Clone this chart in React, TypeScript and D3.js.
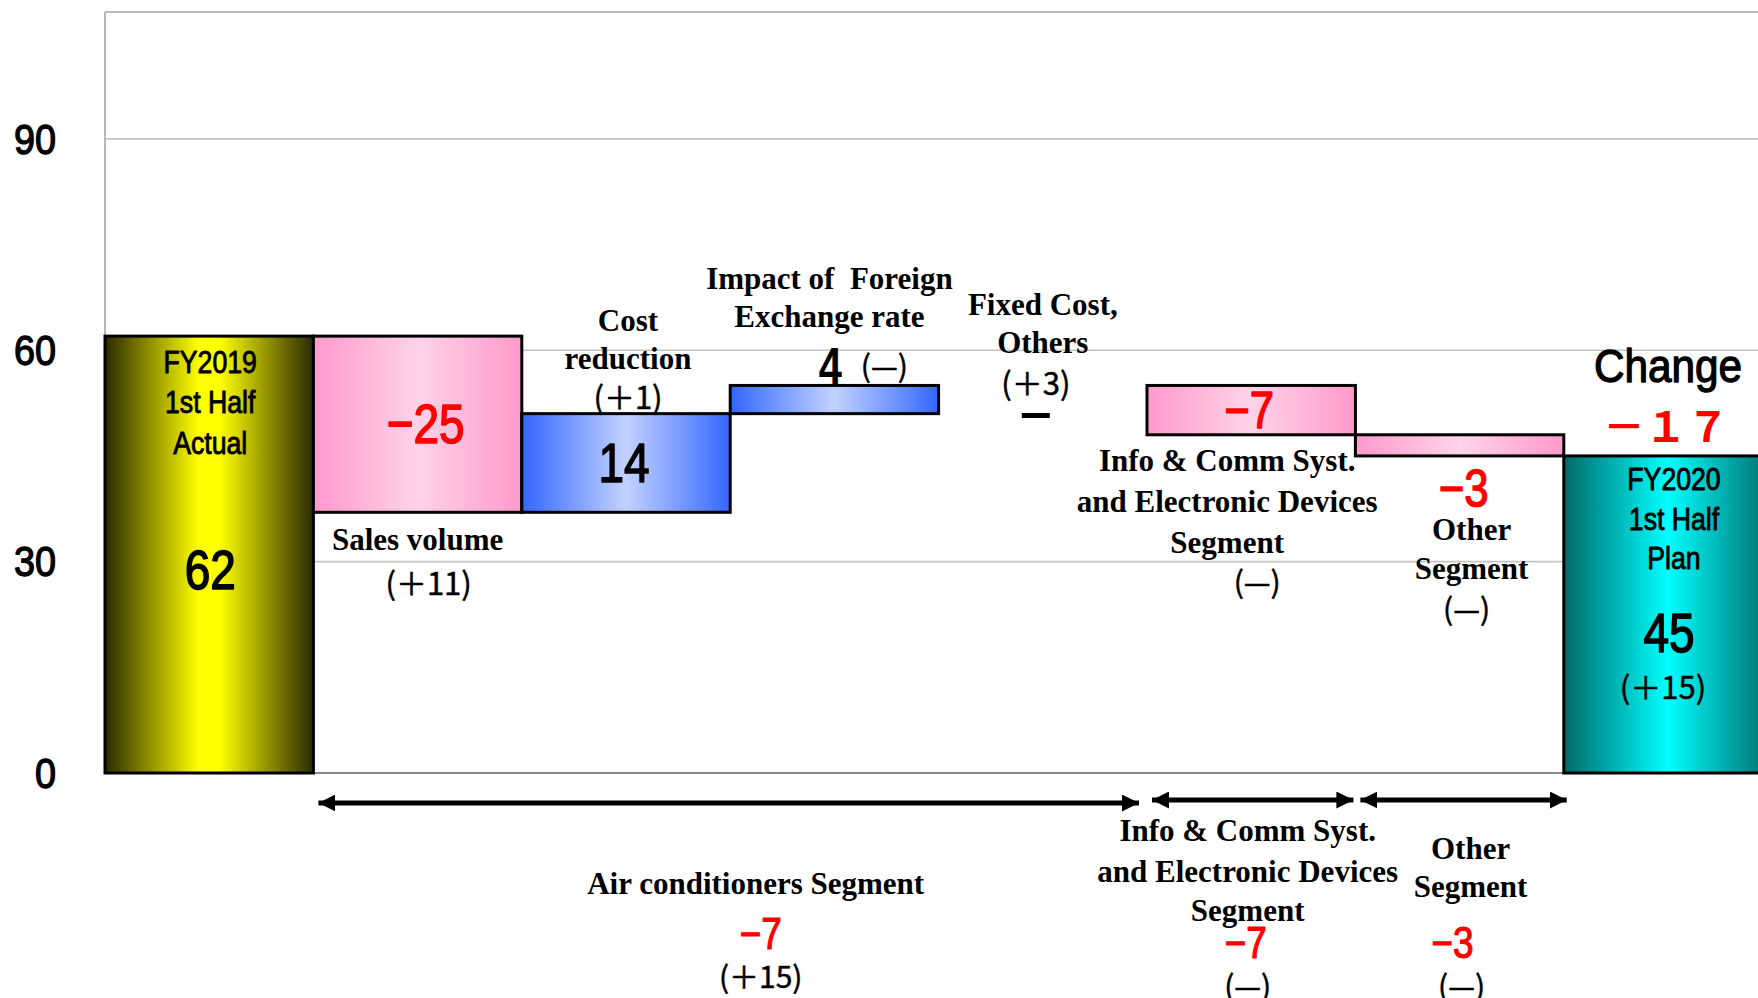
import React from "react";
import * as d3 from "d3";

// Operating income bridge, FY2019 1H actual -> FY2020 1H plan
const categories = ["actual", "volume", "cost", "fx", "fixed", "info", "other", "plan"];
const kinds = ["total", "delta", "delta", "delta", "delta", "delta", "delta", "total"];
const values = [62, -25, 14, 4, 0, -7, -3, 45];
const prevNotes = ["", "(＋11)", "(＋1)", "(—)", "(＋3)", "(—)", "(—)", "(＋15)"];
const yTicks = [0, 30, 60, 90];

const segmentNames = [["Air conditioners Segment"], ["Info & Comm Syst.", "and Electronic Devices", "Segment"], ["Other", "Segment"]];
const segmentFrom = ["volume", "info", "other"];
const segmentTo = ["fixed", "info", "other"];
const segmentValues = [-7, -7, -3];
const segmentNotes = ["(＋15)", "(—)", "(—)"];

const W = 1758;
const H = 998;

const fmt = (v: number) => (v === 0 ? "−" : v < 0 ? `−${Math.abs(v)}` : String(v));
const toFullWidth = (s: string) =>
  s.replace(/[0-9]/g, (c) => String.fromCharCode(c.charCodeAt(0) + 0xfee0)).replace(/-/g, "－");

const SANS = "'Liberation Sans', Arial, 'Noto Sans CJK JP', sans-serif";
const SERIF = "'Liberation Serif', 'Times New Roman', serif";
const CJK = "'Noto Sans CJK JP', 'Liberation Sans', sans-serif";

type TProps = {
  x: number;
  y: number;
  size: number;
  children: React.ReactNode;
  fill?: string;
  family?: string;
  weight?: string | number;
  sx?: number;
  halo?: number; // outline width used to thicken the gothic glyphs
  anchor?: "start" | "middle" | "end";
};

function T({ x, y, size, children, fill = "#000", family = SANS, weight = "normal", sx = 1, halo = 0, anchor = "middle" }: TProps) {
  return (
    <text
      transform={`translate(${x},${y}) scale(${sx},1)`}
      textAnchor={anchor}
      dominantBaseline="central"
      fontSize={size}
      fontFamily={family}
      fontWeight={weight}
      fill={fill}
      stroke={halo ? fill : "none"}
      strokeWidth={halo}
      strokeLinejoin="round"
      style={{ whiteSpace: "pre" }}
    >
      {children}
    </text>
  );
}

export default function App() {
  const x = d3.scaleBand<string>().domain(categories).range([105, 105 + 8 * 208.4]).padding(0);
  const y = d3.scaleLinear().domain([0, 108]).range([773, 12]);
  const bw = x.bandwidth();

  // running totals for the waterfall
  let run = 0;
  const bars = categories.map((c, i) => {
    let y0: number, y1: number;
    if (kinds[i] === "total") {
      y0 = 0;
      y1 = values[i];
      run = values[i];
    } else {
      y0 = run;
      y1 = run + values[i];
      run = y1;
    }
    return { c, i, lo: Math.min(y0, y1), hi: Math.max(y0, y1), v: values[i] };
  });

  const fillFor = (i: number) => {
    if (i === 0) return "url(#gYellow)";
    if (i === categories.length - 1) return "url(#gTeal)";
    return values[i] < 0 ? "url(#gPink)" : "url(#gBlue)";
  };

  const cx = (c: string) => (x(c) as number) + bw / 2;
  const mid = (b: { lo: number; hi: number }) => (y(b.lo) + y(b.hi)) / 2;
  const change = values[values.length - 1] - values[0];

  const B = bars;

  return (
    <svg width={W} height={H} style={{ position: "absolute", left: 0, top: 0, background: "#fff" }}>
      <defs>
        <linearGradient id="gYellow" x1="0" x2="1" y1="0" y2="0">
          <stop offset="0" stopColor="#2a2a00" />
          <stop offset="0.45" stopColor="#ffff00" />
          <stop offset="0.55" stopColor="#ffff00" />
          <stop offset="1" stopColor="#2a2a00" />
        </linearGradient>
        <linearGradient id="gPink" x1="0" x2="1" y1="0" y2="0">
          <stop offset="0" stopColor="#ff99cc" />
          <stop offset="0.5" stopColor="#ffd3e9" />
          <stop offset="1" stopColor="#ff99cc" />
        </linearGradient>
        <linearGradient id="gBlue" x1="0" x2="1" y1="0" y2="0">
          <stop offset="0" stopColor="#3366ff" />
          <stop offset="0.5" stopColor="#c2d2ff" />
          <stop offset="1" stopColor="#3366ff" />
        </linearGradient>
        <linearGradient id="gTeal" x1="0" x2="1" y1="0" y2="0">
          <stop offset="0" stopColor="#006a6a" />
          <stop offset="0.5" stopColor="#00ffff" />
          <stop offset="1" stopColor="#006a6a" />
        </linearGradient>
        <marker id="ah" viewBox="0 0 10 10" refX="10" refY="5" markerWidth="3.4" markerHeight="3.4" orient="auto-start-reverse" markerUnits="strokeWidth">
          <path d="M0,0 L10,5 L0,10 Z" fill="#000" />
        </marker>
      </defs>

      {/* frame and gridlines */}
      <line x1={105} x2={W} y1={12} y2={12} stroke="#b8b8b8" strokeWidth={2} />
      <line x1={105} x2={105} y1={12} y2={y(0)} stroke="#b8b8b8" strokeWidth={2} />
      {yTicks.map((t) => (
        <g key={t}>
          {t > 0 && <line x1={105} x2={W} y1={y(t)} y2={y(t)} stroke="#c4c4c4" strokeWidth={1.6} />}
          <T x={56} y={y(t)} size={42} sx={0.9} halo={1.3} anchor="end">
            {t}
          </T>
        </g>
      ))}
      <line x1={105} x2={W} y1={y(0)} y2={y(0)} stroke="#888" strokeWidth={2} />

      {/* waterfall bars */}
      {B.filter((b) => b.v !== 0).map((b) => (
        <rect
          key={b.c}
          x={x(b.c)}
          y={y(b.hi)}
          width={bw}
          height={y(b.lo) - y(b.hi)}
          fill={fillFor(b.i)}
          stroke="#000"
          strokeWidth={3}
        />
      ))}

      {/* FY2019 actual */}
      <T x={cx("actual") + 1} y={362} size={31} sx={0.86} halo={0.9}>FY2019</T>
      <T x={cx("actual") + 1} y={402} size={31} sx={0.86} halo={0.9}>1st Half</T>
      <T x={cx("actual") + 1} y={443} size={31} sx={0.86} halo={0.9}>Actual</T>
      <T x={cx("actual") + 1} y={y(B[0].hi * 0.466)} size={56} sx={0.82} halo={1.6}>{fmt(B[0].v)}</T>

      {/* Sales volume */}
      <T x={cx("volume") + 8} y={mid(B[1])} size={56} sx={0.82} halo={1.6} fill="#ff0000">{fmt(B[1].v)}</T>
      <T x={cx("volume")} y={539} size={31} family={SERIF} weight="bold">Sales volume</T>
      <T x={cx("volume") + 11} y={581} size={31} family={CJK} halo={0.5}>{prevNotes[1]}</T>

      {/* Cost reduction */}
      <T x={cx("cost") - 2} y={mid(B[2])} size={56} sx={0.82} halo={1.6}>{fmt(B[2].v)}</T>
      <T x={cx("cost") + 2} y={320} size={31} family={SERIF} weight="bold">Cost</T>
      <T x={cx("cost") + 2} y={358} size={31} family={SERIF} weight="bold">reduction</T>
      <T x={cx("cost") + 2} y={395} size={31} family={CJK} halo={0.5}>{prevNotes[2]}</T>

      {/* Foreign exchange */}
      <T x={cx("fx") - 5} y={278} size={31} family={SERIF} weight="bold">Impact of  Foreign</T>
      <T x={cx("fx") - 5} y={316} size={31} family={SERIF} weight="bold">Exchange rate</T>
      <T x={cx("fx") - 4} y={y(B[3].hi) - 20} size={52} sx={0.8} weight="bold">{fmt(B[3].v)}</T>
      <T x={cx("fx") + 50} y={y(B[3].hi) - 21} size={30} family={CJK} halo={0.5}>{prevNotes[3]}</T>

      {/* Fixed cost, others */}
      <T x={cx("fixed")} y={304} size={31} family={SERIF} weight="bold">Fixed Cost,</T>
      <T x={cx("fixed")} y={342} size={31} family={SERIF} weight="bold">Others</T>
      <T x={cx("fixed") - 7} y={381} size={31} family={CJK} halo={0.5}>{prevNotes[4]}</T>
      <rect x={cx("fixed") - 21} y={413} width={28} height={5} fill="#000" />

      {/* Info & Comm segment */}
      <T x={cx("info") - 2} y={mid(B[5])} size={52} sx={0.84} halo={1.5} fill="#ff0000">{fmt(B[5].v)}</T>
      <T x={cx("info") - 24} y={460} size={31} family={SERIF} weight="bold">Info &amp; Comm Syst.</T>
      <T x={cx("info") - 24} y={501} size={31} family={SERIF} weight="bold">and Electronic Devices</T>
      <T x={cx("info") - 24} y={542} size={31} family={SERIF} weight="bold">Segment</T>
      <T x={cx("info") + 6} y={580} size={30} family={CJK} halo={0.5}>{prevNotes[5]}</T>

      {/* Other segment */}
      <T x={cx("other") + 4} y={488} size={52} sx={0.84} halo={1.5} fill="#ff0000">{fmt(B[6].v)}</T>
      <T x={cx("other") + 12} y={529} size={31} family={SERIF} weight="bold">Other</T>
      <T x={cx("other") + 12} y={568} size={31} family={SERIF} weight="bold">Segment</T>
      <T x={cx("other") + 7} y={607} size={30} family={CJK} halo={0.5}>{prevNotes[6]}</T>

      {/* FY2020 plan */}
      <T x={cx("plan")} y={366} size={47} sx={0.9} halo={1.3}>Change</T>
      <T x={cx("plan") - 2} y={423} size={42} family={CJK} weight="bold" fill="#ff0000">{toFullWidth(String(change))}</T>
      <T x={cx("plan") + 6} y={479} size={31} sx={0.86} halo={0.9}>FY2020</T>
      <T x={cx("plan") + 6} y={519} size={31} sx={0.86} halo={0.9}>1st Half</T>
      <T x={cx("plan") + 6} y={558} size={31} sx={0.86} halo={0.9}>Plan</T>
      <T x={cx("plan") + 1} y={633} size={56} sx={0.82} halo={1.6}>{fmt(B[7].v)}</T>
      <T x={cx("plan") - 5} y={685} size={31} family={CJK} halo={0.5}>{prevNotes[7]}</T>

      {/* segment spans under the axis */}
      {segmentNames.map((lines, k) => {
        const x0 = (x(segmentFrom[k]) as number) + 5;
        const x1 = (x(segmentTo[k]) as number) + bw - (k === 0 ? 8 : k === 1 ? 2 : -3);
        const ay = k === 0 ? 803 : 800;
        const mx = (x0 + x1) / 2;
        const textY = k === 0 ? [883] : k === 1 ? [830, 871, 910] : [848, 886];
        const lx = k === 0 ? mx + 27 : k === 1 ? mx - 5 : mx + 7;
        const vx = k === 0 ? mx + 32 : k === 1 ? mx - 7 : mx - 11;
        const nx = k === 0 ? mx + 32 : k === 1 ? mx - 5 : mx - 2;
        const vy = k === 0 ? 934 : 943;
        const ny = k === 0 ? 975 : 984;
        return (
          <g key={k}>
            <line x1={x0} x2={x1} y1={ay} y2={ay} stroke="#000" strokeWidth={5} markerStart="url(#ah)" markerEnd="url(#ah)" />
            {lines.map((s, j) => (
              <T key={j} x={lx} y={textY[j]} size={31} family={SERIF} weight="bold">
                {s}
              </T>
            ))}
            <T x={vx} y={vy} size={44} sx={0.84} halo={1.2} fill="#ff0000">{fmt(segmentValues[k])}</T>
            <T x={nx} y={ny} size={30} family={CJK} halo={0.5}>{segmentNotes[k]}</T>
          </g>
        );
      })}
    </svg>
  );
}
